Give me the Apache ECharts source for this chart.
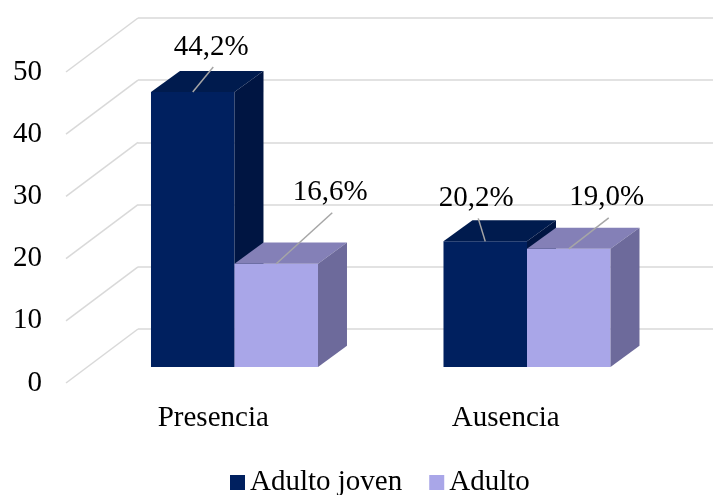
<!DOCTYPE html>
<html><head><meta charset="utf-8">
<script src="https://cdn.jsdelivr.net/npm/echarts@6/dist/echarts.min.js"></script>
<style>html,body{margin:0;padding:0;background:#fff}#c{width:713px;height:495px}</style>
</head><body><div id="c"></div>
<script>
// ---- data ----
const categories = ['Presencia', 'Ausencia'];
const seriesNames = ['Adulto joven', 'Adulto'];
const adultoJoven = [44.2, 20.2];
const adulto = [16.6, 19.0];
const yTicks = [0, 10, 20, 30, 40, 50];

// ---- style / layout ----
const FONT = "'Liberation Serif','Times New Roman',serif";
const FS = 29;
const COLORS = [
  {front:'#00205F', top:'#001B4E', side:'#001542'},
  {front:'#A9A6E8', top:'#8480B7', side:'#6D6A9B'}
];
// label centre relative to the top-front-centre point of each bar [series][category]
const LABEL_SHIFT = [[[18.5,-45],[-9,-43]], [[54,-71],[38,-51]]];
const BAR_RATIO = 0.2855;     // bar width / category band
const DEPTH_RATIO = 0.347;    // bar depth (x) / bar width
const WALL_DX = 72, WALL_DY = 54;

function fmt(v){ return v.toFixed(1).replace('.', ',') + '%'; }

function barRenderer(sIdx){
  const c = COLORS[sIdx];
  return function(params, api){
    const i = api.value(0), v = api.value(1);
    const top = api.coord([i, v]);
    const base = api.coord([i, 0]);
    const bw = api.size([1, 0])[0] * BAR_RATIO;
    const dx = bw * DEPTH_RATIO, dy = -dx * 0.73;
    const x0 = sIdx === 0 ? top[0] - bw : top[0];
    const x1 = x0 + bw;
    const yT = top[1], yB = base[1];
    const cx = (x0 + x1) / 2;
    const sh = LABEL_SHIFT[sIdx][i];
    const lx = cx + sh[0], ly = yT + sh[1];
    return {type:'group', children:[
      {type:'rect', shape:{x:x0, y:yT, width:bw, height:yB-yT}, style:{fill:c.front}},
      {type:'polygon', shape:{points:[[x0,yT],[x1,yT],[x1+dx,yT+dy],[x0+dx,yT+dy]]}, style:{fill:c.top}},
      {type:'polygon', shape:{points:[[x1,yT],[x1+dx,yT+dy],[x1+dx,yB+dy],[x1,yB]]}, style:{fill:c.side}},
      {type:'line', shape:{x1:cx, y1:yT, x2:lx+2, y2:ly+20}, style:{stroke:'#A6A6A6', lineWidth:1.5}},
      {type:'text', x:lx, y:ly, style:{text:fmt(v), fill:'#000', fontSize:FS, fontFamily:FONT, align:'center', verticalAlign:'middle'}}
    ]};
  };
}

const yMin = yTicks[0], yMax = yTicks[yTicks.length-1], yInt = yTicks[1]-yTicks[0];
const chart = echarts.init(document.getElementById('c'), null, {renderer:'canvas'});
chart.setOption({
  animation:false,
  backgroundColor:'#fff',
  grid:[
    {left:88.25, right:39.75, top:56, bottom:128},
    {left:138, right:0, top:18, bottom:166},
    {left:67, right:61, top:72, bottom:112}
  ],
  xAxis:[
    {gridIndex:0, type:'category', data:categories, show:false},
    {gridIndex:1, type:'value', min:0, max:1, show:false},
    {gridIndex:2, type:'category', data:categories, axisLine:{show:false}, axisTick:{show:false},
     axisLabel:{fontSize:FS, color:'#000', fontFamily:FONT, margin:21}}
  ],
  yAxis:[
    {gridIndex:0, type:'value', min:yMin, max:yMax, interval:yInt, show:false},
    {gridIndex:1, type:'value', min:yMin, max:yMax, interval:yInt, axisLabel:{show:false}, axisLine:{show:false}, axisTick:{show:false},
     splitLine:{show:true, lineStyle:{color:'#D9D9D9', width:1.5}}},
    {gridIndex:2, type:'value', min:yMin, max:yMax, interval:yInt, axisLine:{show:false}, axisTick:{show:false}, splitLine:{show:false},
     axisLabel:{fontSize:FS, color:'#000', fontFamily:FONT, margin:25, padding:[5,0,0,0]}}
  ],
  legend:{data:seriesNames, icon:'rect', itemWidth:15, itemHeight:15, itemGap:27, left:225, top:463,
    textStyle:{fontSize:FS, color:'#000', fontFamily:FONT}},
  series:[
    {type:'custom', name:'_walls', xAxisIndex:1, yAxisIndex:1, silent:true,
     data:yTicks.map(v=>[0,v]),
     renderItem:function(p, api){
       const pt = api.coord([0, api.value(1)]);
       return {type:'line', shape:{x1:pt[0], y1:pt[1], x2:pt[0]-WALL_DX, y2:pt[1]+WALL_DY}, style:{stroke:'#D9D9D9', lineWidth:1.5}};
     }},
    {type:'custom', name:seriesNames[0], xAxisIndex:0, yAxisIndex:0, itemStyle:{color:COLORS[0].front},
     data:categories.map((c,i)=>[i, adultoJoven[i]]), renderItem:barRenderer(0)},
    {type:'custom', name:seriesNames[1], xAxisIndex:0, yAxisIndex:0, itemStyle:{color:COLORS[1].front},
     data:categories.map((c,i)=>[i, adulto[i]]), renderItem:barRenderer(1)}
  ]
});
</script></body></html>
